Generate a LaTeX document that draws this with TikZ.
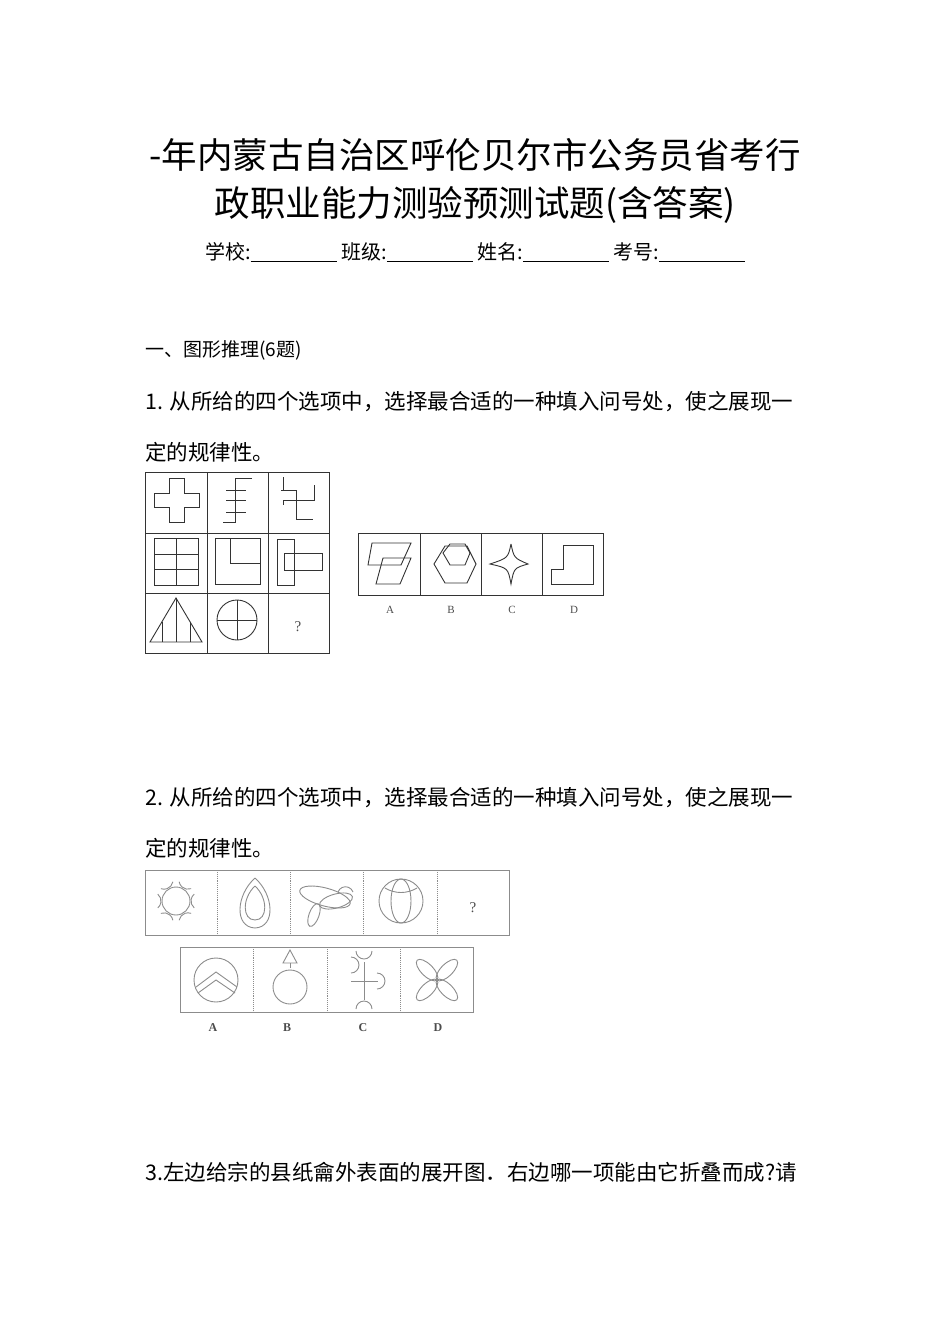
\documentclass[tikz,border=0pt]{standalone}
\usepackage{fontspec}
\setmainfont{Liberation Serif}
\newfontfamily\cjk{Noto Sans CJK SC}
\begin{document}
\begin{tikzpicture}[x=1pt,y=-1pt,
  ln/.style={line width=0.9pt,black!80},
  gl/.style={line width=0.9pt,black!45},
  txt/.style={anchor=west,inner sep=0pt,font=\cjk\fontsize{21.5}{21.5}\selectfont},
  lab/.style={font=\fontsize{11}{11}\selectfont,black!70}]
\useasboundingbox (0,0) rectangle (950,1344);
\node[font=\cjk\fontsize{35.5}{35.5}\selectfont] (t1) at (475,155) {-年内蒙古自治区呼伦贝尔市公务员省考行};
\node[font=\cjk\fontsize{35.5}{35.5}\selectfont] (t2) at (475,205) {政职业能力测验预测试题(含答案)};
\node[font=\cjk\fontsize{20}{20}\selectfont] (t3) at (475,252) {学校:\underline{\hspace{86pt}} 班级:\underline{\hspace{86pt}} 姓名:\underline{\hspace{86pt}} 考号:\underline{\hspace{86pt}}};
\node[txt,font=\cjk\fontsize{19}{19}\selectfont] (s1) at (145,350) {一、图形推理(6题)};
\node[txt] (q1a) at (145,402) {1. 从所给的四个选项中，选择最合适的一种填入问号处，使之展现一};
\node[txt] (q1b) at (145,452) {定的规律性。};
% figure 1 grid
\draw[ln] (145,472) rectangle (329,653);
\foreach \y in {533,593} \draw[ln] (145,\y) -- (329,\y);
\foreach \x in {207,268} \draw[ln] (\x,472) -- (\x,653);
\draw[ln] (169,478) -- (184,478) -- (184,493) -- (199,493) -- (199,507) -- (184,507) -- (184,522) -- (169,522) -- (169,507) -- (154,507) -- (154,493) -- (169,493) -- cycle;
\draw[ln] (252,478) -- (235,478) -- (235,522) -- (223,522);
\foreach \y in {490,500,512} \draw[ln] (226,\y) -- (246,\y);
\draw[ln] (283,477) -- (283,490) -- (296,490) -- (296,519) -- (313,519);
\draw[ln] (281,490) -- (283,490);
\draw[ln] (314,485) -- (314,500) -- (283,500) -- (283,505);
\draw[ln] (154,538) rectangle (198,585); \draw[ln] (154,554)--(198,554); \draw[ln] (154,569)--(198,569); \draw[ln] (176,538)--(176,585);
\draw[ln] (215,538) rectangle (260,584); \draw[ln] (230,538)--(230,563)--(260,563);
\draw[ln] (277,539) rectangle (294,585); \draw[ln] (284,553) rectangle (322,570);
\draw[ln] (176,598) -- (150,642) -- (202,642) -- cycle;
\foreach \x in {162,176,190} \draw[ln] (\x,{598+abs(\x-176)*44/26}) -- (\x,642);
\draw[ln] (237,620) circle (20); \draw[ln] (217,620)--(257,620); \draw[ln] (237,600)--(237,640);
\node[lab,font=\fontsize{15}{15}\selectfont] (qm1) at (298,627) {?};
\draw[ln] (358,533) rectangle (603,595);
\foreach \x in {420,481,542} \draw[ln] (\x,533) -- (\x,595);
\draw[ln] (372,543) -- (411,543) -- (401,565) -- (368,565) -- cycle;
\draw[ln] (383,558) -- (411,558) -- (400,584) -- (376,584) -- cycle;
\draw[ln] (434,564) -- (445,546) -- (467,546) -- (476,564) -- (467,583) -- (445,583) -- cycle;
\draw[ln] (443,553) -- (450,544) -- (465,544) -- (470,553) -- (465,565) -- (450,565) -- cycle;
\draw[ln] (511,544) .. controls (514,558) .. (528,564) .. controls (514,568) .. (511,584) .. controls (508,568) .. (490,564) .. controls (508,558) .. (511,544);
\draw[ln] (563,545) -- (593,545) -- (593,584) -- (551,584) -- (551,569) -- (563,569) -- cycle;
\node[lab] (la) at (390,610) {A}; \node[lab] (lb) at (451,610) {B};
\node[lab] (lc) at (512,610) {C}; \node[lab] (ld) at (574,610) {D};
% question 2
\node[txt] (q2a) at (145,798) {2. 从所给的四个选项中，选择最合适的一种填入问号处，使之展现一};
\node[txt] (q2b) at (145,848) {定的规律性。};
\draw[gl] (145,870) rectangle (509,935);
\foreach \x in {217,290,363,437} \draw[gl,densely dotted] (\x,870) -- (\x,935);
\begin{scope}[shift={(176,901)}]
\draw[gl] (0,0) circle (14);
\foreach \a in {0,60,120,180,240,300}
  \draw[gl] ({24*cos(\a)+9*cos(\a+130)},{24*sin(\a)+9*sin(\a+130)}) arc[start angle=\a+130,end angle=\a+230,radius=9];
\end{scope}
\draw[gl] (255,878) .. controls (236,895) and (234,927) .. (255,928) .. controls (276,927) and (274,895) .. (255,878);
\draw[gl] (255,886) .. controls (242,898) and (242,920) .. (255,920) .. controls (268,920) and (268,898) .. (255,886);
\draw[gl,rotate around={-15:(325,897)}] (325,897) ellipse (26 and 9);
\draw[gl,rotate around={15:(336,901)}] (336,901) ellipse (17 and 7);
\draw[gl,rotate around={70:(314,915)}] (314,915) ellipse (12 and 5);
\draw[gl] (338,892) arc (200:340:8);
\draw[gl] (401,901) circle (22);
\draw[gl] (401,901) ellipse (10 and 22);
\draw[gl] (385,888) .. controls (395,894) and (407,894) .. (417,888);
\node[lab,font=\fontsize{15}{15}\selectfont] (qm2) at (473,908) {?};
\draw[gl] (180,947) rectangle (473,1012);
\foreach \x in {253,327,400} \draw[gl,densely dotted] (\x,947) -- (\x,1012);
\draw[gl] (216,980) circle (22);
\draw[gl] (196,987) -- (216,972) -- (237,987); \draw[gl] (198,993) -- (216,980) -- (235,993);
\draw[gl] (290,950) -- (283,963) -- (297,963) -- cycle; \draw[gl] (290,963)--(290,968);
\draw[gl] (290,987) circle (17);
\draw[gl] (351,981) -- (378,981); \draw[gl] (364,962) -- (364,1000);
\draw[gl] (356,951) arc (180:0:8); \draw[gl] (356,1009) arc (180:360:8);
\draw[gl] (351,973) arc (270:90:-8); \draw[gl] (377,973) arc (90:270:-8);
\foreach \r in {45,135,225,315}
  \draw[gl,rotate around={\r:(437,980)}] (451,980) ellipse (14 and 6);
\node[lab,font=\bfseries\fontsize{12}{12}\selectfont] (l2a) at (213,1028) {A};
\node[lab,font=\bfseries\fontsize{12}{12}\selectfont] (l2b) at (287,1028) {B};
\node[lab,font=\bfseries\fontsize{12}{12}\selectfont] (l2c) at (363,1028) {C};
\node[lab,font=\bfseries\fontsize{12}{12}\selectfont] (l2d) at (438,1028) {D};
\node[txt] (q3) at (145,1172) {3.左边给宗的县纸龠外表面的展开图．右边哪一项能由它折叠而成?请};
\end{tikzpicture}
\end{document}
